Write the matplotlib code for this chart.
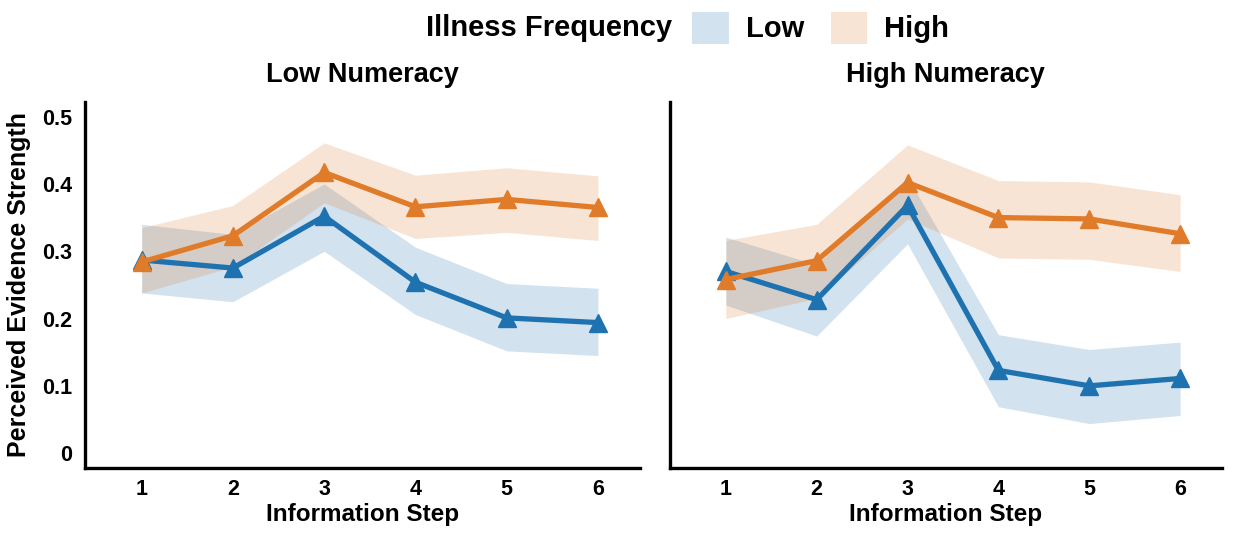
import numpy as np
import matplotlib
matplotlib.use("Agg")
import matplotlib.pyplot as plt
from matplotlib.patches import Patch

plt.rcParams['font.family'] = ['Liberation Sans', 'DejaVu Sans']
plt.rcParams['font.weight'] = 'bold'

steps = [1, 2, 3, 4, 5, 6]
panels = ['Low Numeracy', 'High Numeracy']

# low numeracy
low_num_low_mean = [0.287, 0.275, 0.352, 0.254, 0.201, 0.194]
low_num_low_lo = [0.238, 0.225, 0.300, 0.206, 0.152, 0.145]
low_num_low_hi = [0.340, 0.325, 0.400, 0.306, 0.252, 0.245]
low_num_high_mean = [0.284, 0.323, 0.417, 0.366, 0.377, 0.365]
low_num_high_lo = [0.238, 0.277, 0.372, 0.319, 0.328, 0.316]
low_num_high_hi = [0.335, 0.368, 0.461, 0.413, 0.424, 0.412]

# high numeracy
high_num_low_mean = [0.270, 0.228, 0.368, 0.123, 0.100, 0.111]
high_num_low_lo = [0.220, 0.174, 0.311, 0.069, 0.044, 0.056]
high_num_low_hi = [0.321, 0.280, 0.410, 0.176, 0.154, 0.165]
high_num_high_mean = [0.258, 0.286, 0.402, 0.350, 0.348, 0.326]
high_num_high_lo = [0.200, 0.230, 0.348, 0.290, 0.288, 0.270]
high_num_high_hi = [0.316, 0.340, 0.458, 0.405, 0.403, 0.384]

blue = '#1f72b0'
orange = '#e07b29'

fig = plt.figure(figsize=(12.33, 5.33), dpi=100)
ax1 = fig.add_axes([0.069, 0.122, 0.450, 0.687])
ax2 = fig.add_axes([0.543, 0.122, 0.448, 0.687])

data = [
    (low_num_low_mean, low_num_low_lo, low_num_low_hi, low_num_high_mean, low_num_high_lo, low_num_high_hi),
    (high_num_low_mean, high_num_low_lo, high_num_low_hi, high_num_high_mean, high_num_high_lo, high_num_high_hi),
]

for ax, title, d in zip([ax1, ax2], panels, data):
    lm, ll, lh, hm, hl, hh = d
    ax.fill_between(steps, ll, lh, color=blue, alpha=0.2, lw=0)
    ax.fill_between(steps, hl, hh, color=orange, alpha=0.2, lw=0)
    ax.plot(steps, lm, color=blue, lw=3.8, marker='^', ms=13)
    ax.plot(steps, hm, color=orange, lw=3.8, marker='^', ms=13)
    ax.set_xlim(0.38, 6.46)
    ax.set_ylim(-0.022, 0.522)
    ax.set_xticks(steps)
    ax.set_yticks([0, 0.1, 0.2, 0.3, 0.4, 0.5])
    ax.set_yticklabels(['0', '0.1', '0.2', '0.3', '0.4', '0.5'])
    ax.tick_params(length=0, labelsize=15.5)
    ax.tick_params(axis='x', pad=8)
    ax.tick_params(axis='y', pad=9)
    for s in ['top', 'right']:
        ax.spines[s].set_visible(False)
    for s in ['left', 'bottom']:
        ax.spines[s].set_linewidth(2.4)
    ax.set_title(title, fontsize=19.5, fontweight='bold', pad=14)
    ax.set_xlabel('Information Step', fontsize=17.5, fontweight='bold', labelpad=2)

ax2.tick_params(axis='y', labelleft=False)
ax1.set_ylabel('Perceived Evidence Strength', fontsize=18, fontweight='bold', labelpad=8)

fig.text(0.545, 0.948, 'Illness Frequency', fontsize=21, fontweight='bold',
         ha='right', va='center')
handles = [Patch(facecolor=blue, alpha=0.2, lw=0), Patch(facecolor=orange, alpha=0.2, lw=0)]
fig.legend(handles, ['Low', 'High'], loc='center left', bbox_to_anchor=(0.54, 0.948),
           ncol=2, frameon=False, fontsize=21, handlelength=1.25, handleheight=1.3,
           columnspacing=0.9, handletextpad=0.6)

fig.savefig('out.png', dpi=100)
